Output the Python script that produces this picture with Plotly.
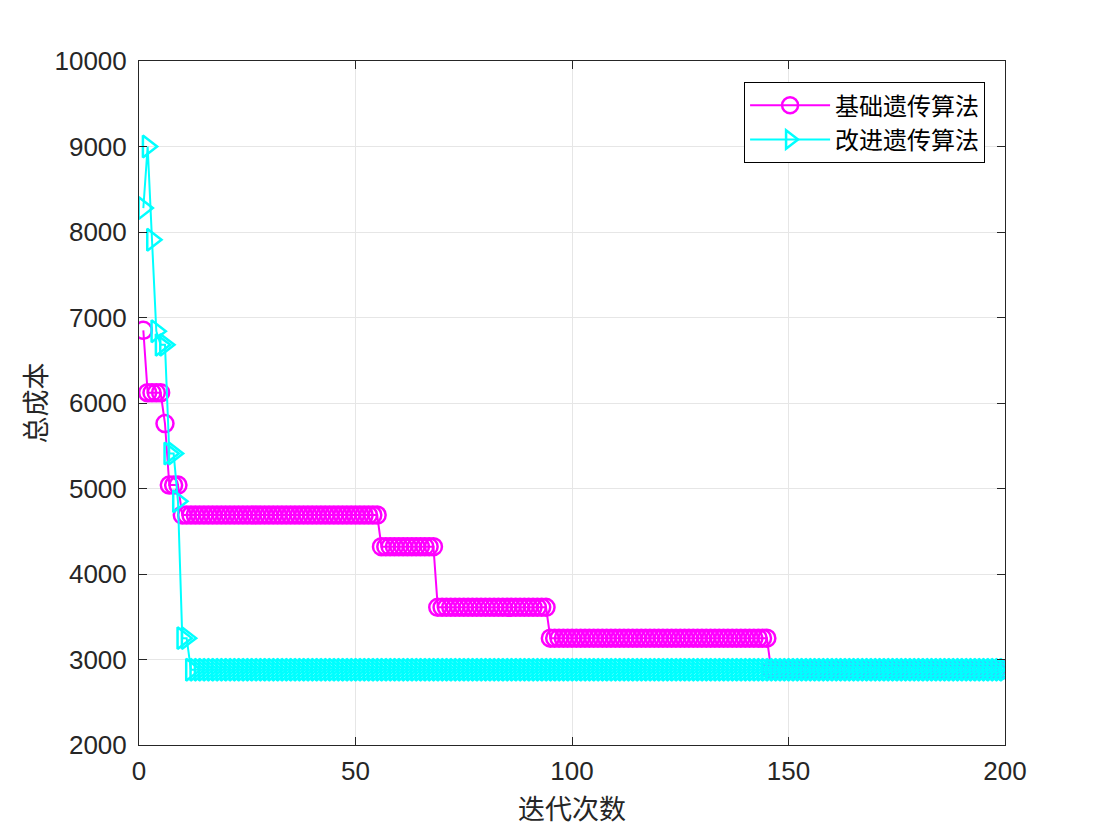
import plotly.graph_objects as go

# ---- data (value levels and how many iterations each lasts) ----
iterations = list(range(1, 201))

basic_levels = [6850, 6120, 5760, 5040, 4690, 4320, 3610, 3250, 2880]
basic_counts = [1, 4, 1, 3, 46, 13, 26, 51, 55]

improved_levels = [8280, 9000, 7910, 6840, 6680, 5410, 4850, 3250, 2880]
improved_counts = [1, 1, 1, 1, 2, 2, 1, 2, 189]

series_names = ["基础遗传算法", "改进遗传算法"]
x_ticks = [0, 50, 100, 150, 200]
y_ticks = [2000, 3000, 4000, 5000, 6000, 7000, 8000, 9000, 10000]


def expand(levels, counts):
    out = []
    for v, c in zip(levels, counts):
        out.extend([v] * c)
    return out


basic = expand(basic_levels, basic_counts)
improved = expand(improved_levels, improved_counts)

AX = "#262626"
GRID = "#e6e6e6"
CJK = "Noto Sans CJK SC"
LAT = "Liberation Sans, Arial, sans-serif"

fig = go.Figure()
fig.add_trace(go.Scatter(
    x=iterations, y=basic, name=series_names[0], mode="lines+markers",
    line=dict(color="#ff00ff", width=2),
    marker=dict(symbol="circle-open", size=17, color="#ff00ff",
                line=dict(width=2.5, color="#ff00ff")),
))
fig.add_trace(go.Scatter(
    x=iterations, y=improved, name=series_names[1], mode="lines+markers",
    line=dict(color="#00ffff", width=2),
    marker=dict(symbol="triangle-right-open", size=19, color="#00ffff",
                line=dict(width=2.5, color="#00ffff")),
))

fig.update_layout(
    width=1108, height=835,
    margin=dict(l=131, r=111, t=53, b=98),
    paper_bgcolor="white", plot_bgcolor="white",
    showlegend=True,
    legend=dict(
        x=0.977, y=0.969, xanchor="right", yanchor="top",
        bgcolor="white", bordercolor="#000000", borderwidth=1,
        font=dict(family=CJK, size=24, color="#000000"),
        itemwidth=80, tracegroupgap=0,
    ),
    xaxis=dict(
        range=[0, 200], tickvals=x_ticks, ticktext=[str(t) for t in x_ticks],
        showgrid=True, gridcolor=GRID, gridwidth=1,
        showline=True, linecolor=AX, linewidth=1, mirror="ticks",
        ticks="inside", ticklen=8, tickcolor=AX, tickwidth=1,
        zeroline=False, ticklabelstandoff=3,
        tickfont=dict(family=LAT, size=26, color=AX),
        title=dict(text="迭代次数", font=dict(family=CJK, size=27, color=AX), standoff=14),
    ),
    yaxis=dict(
        range=[2000, 10000], tickvals=y_ticks, ticktext=[str(t) for t in y_ticks],
        showgrid=True, gridcolor=GRID, gridwidth=1,
        showline=True, linecolor=AX, linewidth=1, mirror="ticks",
        ticks="inside", ticklen=8, tickcolor=AX, tickwidth=1,
        zeroline=False, ticklabelstandoff=6,
        tickfont=dict(family=LAT, size=26, color=AX),
        title=dict(text="总成本", font=dict(family=CJK, size=27, color=AX), standoff=0),
    ),
)

fig.write_html("out.html")
